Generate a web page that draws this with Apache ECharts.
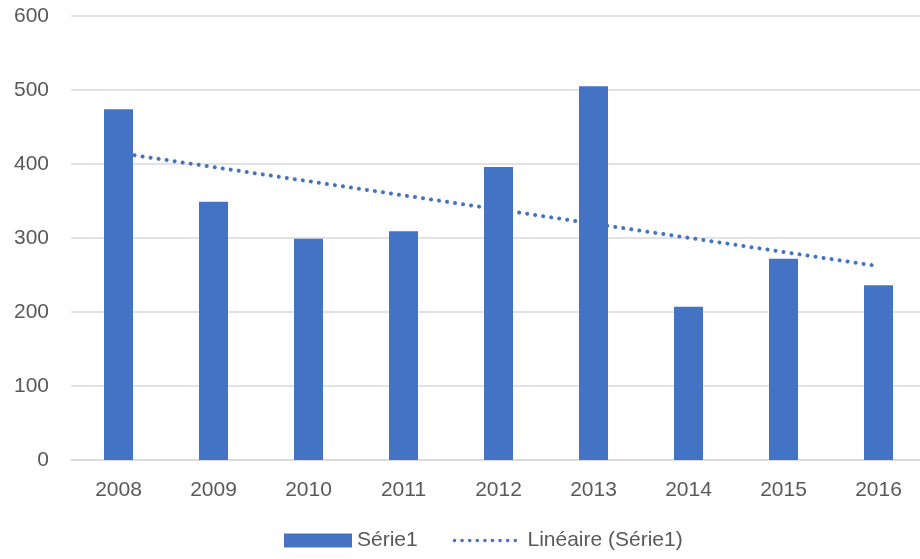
<!DOCTYPE html>
<html>
<head>
<meta charset="utf-8">
<script src="https://cdn.jsdelivr.net/npm/echarts@6/dist/echarts.min.js"></script>
<style>
html, body { margin: 0; padding: 0; background: #fff; }
#chart { width: 920px; height: 559px; }
</style>
</head>
<body>
<div id="chart"></div>
<script>
// années et valeurs
var years = ['2008', '2009', '2010', '2011', '2012', '2013', '2014', '2015', '2016'];
var serie1 = [474, 349, 299, 309, 396, 505, 207, 272, 236];
// tendance linéaire : seulement les deux extrémités
var lineaire = [415, null, null, null, null, null, null, null, 262];

var font = 'Liberation Sans';
var grey = '#595959';
var blue = '#4472C4';

var chart = echarts.init(document.getElementById('chart'));
var option = {
    animation: false,
    textStyle: { fontFamily: font },
    grid: { left: 71, width: 855, top: 16, bottom: 99, containLabel: false, outerBoundsMode: 'none' },
    legend: {
        left: 279,
        bottom: 3,
        itemWidth: 68,
        itemHeight: 14,
        itemGap: 35,
        textStyle: { color: grey, fontSize: 21, fontFamily: font },
        data: [
            { name: 'Série1', icon: 'rect' },
            {
                name: 'Linéaire (Série1)',
                itemStyle: { opacity: 0 },
                lineStyle: { width: 3.5, type: [0.1, 7.5], cap: 'round' }
            }
        ]
    },
    xAxis: {
        type: 'category',
        data: years,
        axisLine: { lineStyle: { color: '#d9d9d9', width: 1.5 } },
        axisTick: { show: false },
        axisLabel: { color: grey, fontSize: 21, margin: 20 }
    },
    yAxis: {
        type: 'value',
        min: 0,
        max: 600,
        interval: 100,
        axisLine: { show: false },
        axisTick: { show: false },
        axisLabel: { color: grey, fontSize: 21, margin: 22 },
        splitLine: { lineStyle: { color: '#d9d9d9', width: 1.5 } }
    },
    series: [
        {
            name: 'Série1',
            type: 'bar',
            data: serie1,
            barWidth: 29,
            itemStyle: { color: blue }
        },
        {
            name: 'Linéaire (Série1)',
            type: 'line',
            data: lineaire,
            connectNulls: true,
            symbol: 'none',
            itemStyle: { color: blue },
            lineStyle: { color: blue, width: 4, type: [0.1, 8], cap: 'round' }
        }
    ]
};
chart.setOption(option);
</script>
</body>
</html>
